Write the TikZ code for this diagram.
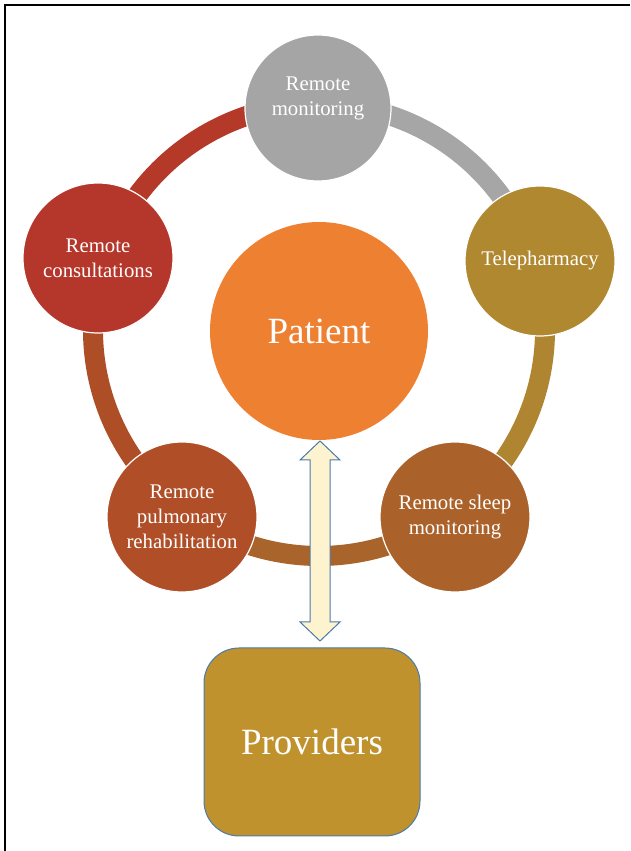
\documentclass[tikz,border=0pt]{standalone}
\usepackage{fontspec}
\setmainfont{Liberation Serif}
\definecolor{cMon}{RGB}{165,165,165}
\definecolor{cTele}{RGB}{176,136,48}
\definecolor{cSleep}{RGB}{170,98,42}
\definecolor{cPulm}{RGB}{176,78,40}
\definecolor{cCons}{RGB}{181,54,42}
\definecolor{cPat}{RGB}{238,128,50}
\definecolor{cProv}{RGB}{191,146,46}
\definecolor{rRed}{RGB}{181,57,40}
\definecolor{rGray}{RGB}{166,166,166}
\definecolor{rGold}{RGB}{175,133,50}
\definecolor{rBrown}{RGB}{168,100,42}
\definecolor{rLeft}{RGB}{174,78,38}
\definecolor{arrFill}{RGB}{253,243,207}
\definecolor{arrLine}{RGB}{74,123,170}
\tikzset{
  sat/.style={circle, minimum size=150pt, inner sep=0pt, draw=white, line width=1.2pt,
    text=white, align=center, font=\fontsize{20.8}{25}\selectfont},
  ringseg/.style={line width=20pt},
}
\begin{document}
\begin{tikzpicture}[x=1pt,y=1pt]
\useasboundingbox (0,0) rectangle (630,851);
% border
\draw[line width=2.5pt] (5,0) -- (5,846) -- (630,846);
% ring
\coordinate (rc) at (319,521);
\draw[ringseg, rRed]   (rc) ++(90:226pt)  arc[start angle=90,  end angle=162, radius=226pt];
\draw[ringseg, rGray]  (rc) ++(18:226pt)  arc[start angle=18,  end angle=90,  radius=226pt];
\draw[ringseg, rGold]  (rc) ++(-54:226pt) arc[start angle=-54, end angle=18,  radius=226pt];
\draw[ringseg, rBrown] (rc) ++(-126:226pt) arc[start angle=-126, end angle=-54, radius=226pt];
\draw[ringseg, rLeft]  (rc) ++(162:226pt) arc[start angle=162, end angle=234, radius=226pt];
% satellites
\node[sat, fill=cMon, minimum size=146pt] (mon) at (318,743)
  {\raisebox{5pt}[0pt][0pt]{\begin{tabular}{@{}c@{}}Remote\\monitoring\end{tabular}}};
\node[sat, fill=cTele] (tele) at (540,590) {Telepharmacy};
\node[sat, fill=cSleep] (sleep) at (455,334) {Remote sleep\\monitoring};
\node[sat, fill=cPulm] (pulm) at (182,334) {Remote\\pulmonary\\rehabilitation};
\node[sat, fill=cCons] (cons) at (98,593) {Remote\\consultations};
% patient
\node[circle, minimum size=218pt, inner sep=0pt, fill=cPat, text=white,
  font=\fontsize{37}{44}\selectfont] (pat) at (319,520) {Patient};
% providers
\node[rectangle, rounded corners=35pt, minimum width=216pt, minimum height=188pt,
  fill=cProv, draw=arrLine, line width=1pt, text=white,
  font=\fontsize{37}{44}\selectfont] (prov) at (312,109) {Providers};
% double arrow
\draw[fill=arrFill, draw=arrLine, line width=1pt, line join=miter]
  (320,410) -- (340,391) -- (330,391) -- (330,229) -- (340,229) -- (320,210)
  -- (300,229) -- (310,229) -- (310,391) -- (300,391) -- cycle;
\end{tikzpicture}
\end{document}
